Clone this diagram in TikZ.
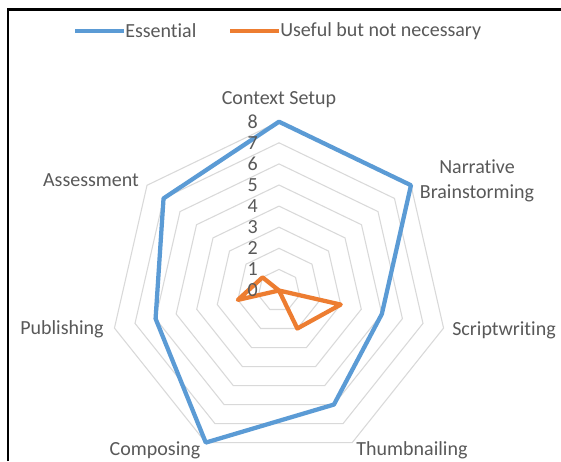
\documentclass[tikz,border=0pt]{standalone}
\usepackage{fontspec}
\setmainfont[Ligatures=NoCommon]{Carlito}
\usepackage{tikz}
\usetikzlibrary{positioning}
\newcommand{\radarUnit}{21.1}
\definecolor{essBlue}{HTML}{5B9BD5}
\definecolor{usefulOrange}{HTML}{ED7D31}
\definecolor{ringGray}{HTML}{D9D9D9}
\definecolor{labelGray}{HTML}{595959}
\tikzset{
  ring/.style={draw=ringGray,line width=0.8pt},
  essential/.style={draw=essBlue,line width=3.2pt,line join=round},
  useful/.style={draw=usefulOrange,line width=3.2pt,line join=round},
  lbl/.style={text=labelGray,font=\fontsize{15}{16.5}\selectfont,inner sep=0pt},
  ticklbl/.style={lbl,anchor=east}
}

\begin{document}
\begin{tikzpicture}[x=0.75pt,y=-0.75pt]
\useasboundingbox (0,0) rectangle (561,461);
\fill[white] (0,0) rectangle (561,461);
\draw[line width=2pt] (8,461) -- (8,9.7) -- (561,9.7);
% legend
\node[lbl,anchor=west] (legEss) at (125,31) {Essential};
\node[lbl,anchor=west] (legUse) at (280,31) {Useful but not necessary};
\coordinate (legEssA) at (75,31);
\coordinate (legUseA) at (230,31);
\draw[essential] (legEssA) -- ([xshift=-1]legEss.west);
\draw[useful] (legUseA) -- ([xshift=-1]legUse.west);
\begin{scope}[shift={(279,290.5)}]
% rings
\foreach \r in {1,...,8}
  \draw[ring] (-90:\r*\radarUnit) \foreach \k in {1,...,6} { -- ({-90+\k*360/7}:\r*\radarUnit) } -- cycle;
% data
\foreach \v [count=\k from 0] in {8,8,5,6,8,6,7}
  \coordinate (ess\k) at ({-90+\k*360/7}:\v*\radarUnit);
\foreach \v [count=\k from 0] in {0,0,3,2,0,2,1}
  \coordinate (use\k) at ({-90+\k*360/7}:\v*\radarUnit);
\draw[useful] (use0) -- (use1) -- (use2) -- (use3) -- (use4) -- (use5) -- (use6) -- cycle;
\draw[essential] (ess0) -- (ess1) -- (ess2) -- (ess3) -- (ess4) -- (ess5) -- (ess6) -- cycle;
% scale
\foreach \v in {0,...,8}
  \node[ticklbl] (tick\v) at (-21,-\v*\radarUnit) {\v};
\end{scope}
% axis names
\node[lbl] (context) at (279,100) {Context Setup};
\node[lbl,align=center] (narrative) at (477,181) {Narrative\\[2pt]Brainstorming};
\node[lbl] (script) at (504,330) {Scriptwriting};
\node[lbl] (thumb) at (412,450) {Thumbnailing};
\node[lbl] (composing) at (155,450) {Composing};
\node[lbl] (publishing) at (62,329) {Publishing};
\node[lbl] (assessment) at (91,180) {Assessment};
\end{tikzpicture}
\end{document}
